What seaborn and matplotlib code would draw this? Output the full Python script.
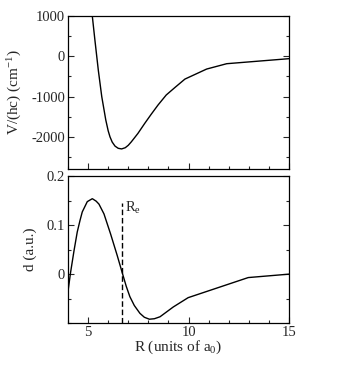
import matplotlib
matplotlib.use("Agg")
import matplotlib.pyplot as plt
import seaborn as sns
import pandas as pd
from matplotlib.ticker import MultipleLocator

# potential curve V/(hc)
r_pot = [5.10, 5.21, 5.34, 5.51, 5.68, 5.88, 6.00, 6.09, 6.20, 6.34, 6.50, 6.67, 6.85,
         7.00, 7.15, 7.30, 7.48, 7.65, 7.82, 8.14, 8.48, 8.89, 9.32, 9.82, 10.9, 11.9, 15.0]
v_pot = [1600, 1000, 400, -350, -1000, -1580, -1850, -2000, -2130, -2230, -2285, -2300, -2270,
         -2210, -2125, -2030, -1915, -1790, -1665, -1440, -1210, -960, -775, -565, -316, -183, -58]

# dipole d (a.u.)
r_dip = [4.00, 4.13, 4.30, 4.46, 4.60, 4.71, 4.96, 5.21, 5.40, 5.54, 5.79, 6.12, 6.45,
         6.72, 6.90, 7.08, 7.30, 7.58, 7.80, 8.05, 8.30, 8.58, 9.24, 9.98, 12.97, 15.0]
d_dip = [-0.035, 0.004, 0.048, 0.086, 0.110, 0.127, 0.148, 0.154, 0.149, 0.143, 0.123, 0.082, 0.038,
         0.000, -0.025, -0.046, -0.064, -0.080, -0.088, -0.092, -0.091, -0.087, -0.067, -0.048, -0.007, 0.000]

r_e = 6.70
re_top = 0.146

sns.set_style("ticks")
plt.rcParams['font.family'] = ['Liberation Serif', 'DejaVu Serif']
plt.rcParams['mathtext.fontset'] = 'custom'
plt.rcParams['mathtext.rm'] = 'Liberation Serif'
plt.rcParams['mathtext.it'] = 'Liberation Serif:italic'
plt.rcParams['axes.unicode_minus'] = False

fig = plt.figure(figsize=(3.4, 3.74), dpi=100)
ax1 = fig.add_axes([0.2, 0.548, 0.65, 0.409])
ax2 = fig.add_axes([0.2, 0.136, 0.65, 0.393])

pot = pd.DataFrame({'R': r_pot, 'V': v_pot})
dip = pd.DataFrame({'R': r_dip, 'd': d_dip})

sns.lineplot(data=pot, x='R', y='V', ax=ax1, color='black', lw=1.0, estimator=None)
sns.lineplot(data=dip, x='R', y='d', ax=ax2, color='black', lw=1.0, estimator=None)
ax2.plot([r_e, r_e], [-0.1, re_top], color='black', lw=1.0, ls=(0, (4, 2)))
ax2.text(r_e + 0.15, 0.127, r'R$_\mathrm{e}$', fontsize=10.5)

ax1.set_xlim(4, 15)
ax1.set_ylim(-2800, 1000)
ax1.yaxis.set_major_locator(MultipleLocator(1000))
ax1.yaxis.set_minor_locator(MultipleLocator(500))
ax1.set_xticklabels([])
ax1.set_xlabel('')
ax1.set_ylabel(r'V/(hc) (cm$^{-1}$)', fontsize=11)
ax1.yaxis.set_label_coords(-0.2, 0.5)

ax2.set_xlim(4, 15)
ax2.set_ylim(-0.1, 0.2)
ax2.set_yticks([0, 0.1, 0.2])
ax2.set_yticklabels(['0', '0.1', '0.2'])
ax2.yaxis.set_minor_locator(MultipleLocator(0.05))
ax2.set_xlabel(r'R (units of a$_0$)', fontsize=11, labelpad=0)
ax2.set_ylabel('d (a.u.)', fontsize=11)
ax2.yaxis.set_label_coords(-0.14, 0.5)

for ax in (ax1, ax2):
    ax.xaxis.set_major_locator(MultipleLocator(5))
    ax.xaxis.set_minor_locator(MultipleLocator(1))
    ax.tick_params(which='both', direction='in', right=True, top=False, labelsize=10.5,
                   width=0.8, pad=2)
    ax.tick_params(which='major', length=4.5)
    ax.tick_params(which='minor', length=2.5)
    for s in ax.spines.values():
        s.set_linewidth(0.9)
        s.set_color('black')

fig.savefig('out.png', dpi=100)
